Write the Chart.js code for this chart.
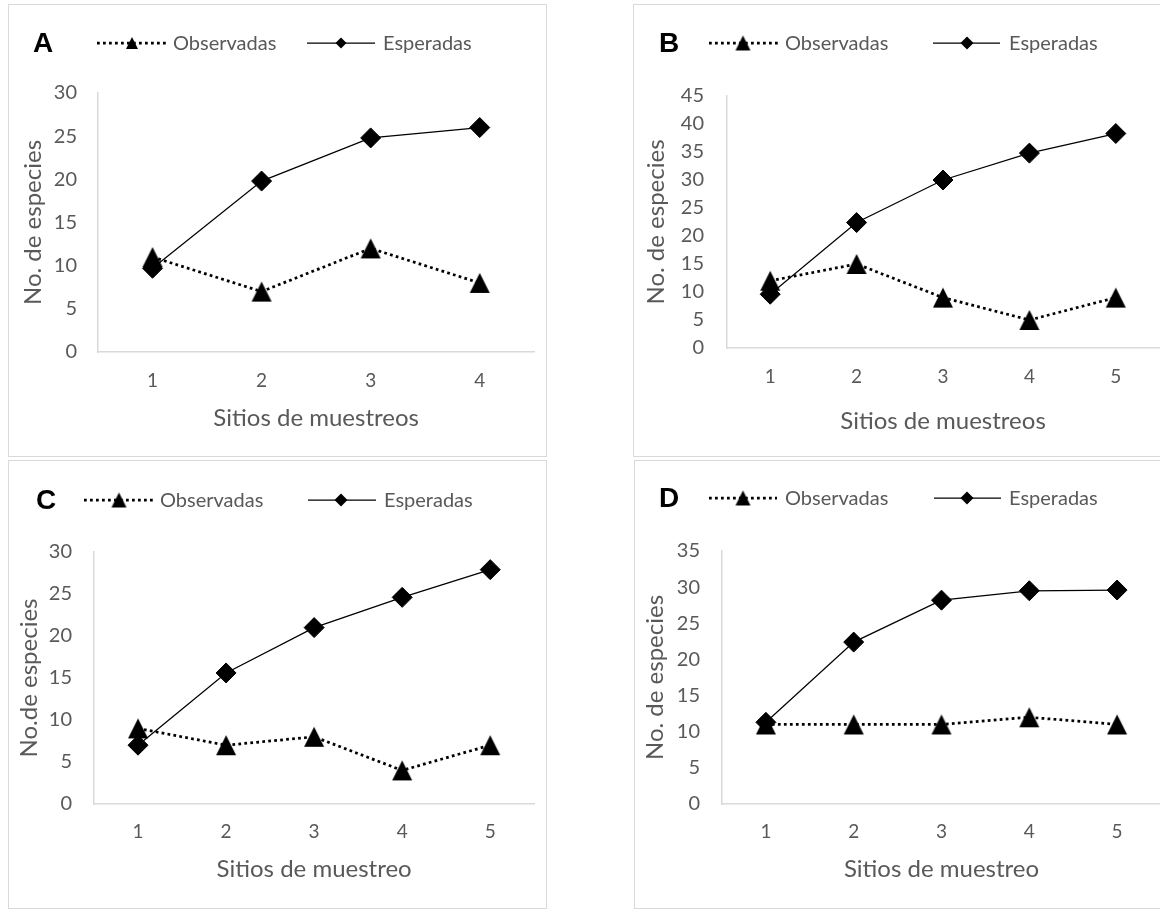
<!DOCTYPE html>
<html>
<head>
<meta charset="utf-8">
<script src="https://cdn.jsdelivr.net/npm/chart.js@4/dist/chart.umd.min.js"></script>
<style>
    html, body { margin: 0; padding: 0; background: #fff; }
    body { width: 1160px; height: 909px; overflow: hidden; position: relative; }
    .panel { position: absolute; box-sizing: border-box; border: 1px solid #d9d9d9; }
    .panel canvas { position: absolute; left: 0; top: 0; }
</style>
</head>
<body>
<script>
// data
var sitesA = ['1', '2', '3', '4'];
var sitesBCD = ['1', '2', '3', '4', '5'];

var obsA = [11, 7, 12, 8];
var espA = [9.7, 19.8, 24.8, 26];

var obsB = [12, 15, 9, 5, 9];
var espB = [9.6, 22.4, 30, 34.8, 38.3];

var obsC = [9, 7, 8, 4, 7];
var espC = [7, 15.6, 21, 24.6, 27.9];

var obsD = [11, 11, 11, 12, 11];
var espD = [11.3, 22.4, 28.2, 29.5, 29.6];

var yMaxes = [30, 45, 30, 35];
var yTitles = ['No. de especies', 'No. de especies', 'No.de especies', 'No. de especies'];
var xTitles = ['Sitios de muestreos', 'Sitios de muestreos', 'Sitios de muestreo', 'Sitios de muestreo'];
var letters = ['A', 'B', 'C', 'D'];
var seriesNames = ['Observadas', 'Esperadas'];

var GREY = '#595959';
var FONT = 'Lato, "Open Sans", sans-serif';

// panel boxes and plot areas (canvas coords)
var panels = [
    { left: 8, top: 4, w: 539, h: 453, area: { l: 89, r: 529, t: 88, b: 347 },
      yTitleX: 24, xTitleOff: 66, yPad: 21, xPad: 17,
      leg: { y: 38, letterX: 24, obs: [88, 159, 123], obsText: 164, esp: [298, 366, 332], espText: 374, tri: 12, diaR: 5.5 },
      labels: sitesA, obs: obsA, esp: espA },
    { left: 633, top: 4, w: 540, h: 453, area: { l: 93, r: 525, t: 91, b: 343 },
      yTitleX: 22, xTitleOff: 73, yPad: 23, xPad: 17,
      leg: { y: 38, letterX: 25, obs: [75, 144, 109], obsText: 151, esp: [299, 366, 333], espText: 375, tri: 15, diaR: 6.5 },
      labels: sitesBCD, obs: obsB, esp: espB },
    { left: 8, top: 460, w: 539, h: 449, area: { l: 85, r: 533, t: 91, b: 343 },
      yTitleX: 20, xTitleOff: 65, yPad: 22, xPad: 16,
      leg: { y: 39, letterX: 27, obs: [75, 144, 110], obsText: 151, esp: [299, 367, 332], espText: 375, tri: 15, diaR: 6.5 },
      labels: sitesBCD, obs: obsC, esp: espC },
    { left: 634, top: 460, w: 540, h: 449, area: { l: 87, r: 526, t: 90, b: 343 },
      yTitleX: 20, xTitleOff: 65, yPad: 22, xPad: 16,
      leg: { y: 37, letterX: 24, obs: [74, 142, 108], obsText: 150, esp: [299, 366, 332], espText: 374, tri: 15, diaR: 6.5 },
      labels: sitesBCD, obs: obsD, esp: espD }
];

// Excel-like triangle marker: box centred on the value
function makeTriangle(size) {
    var c = document.createElement('canvas');
    c.width = size + 2;
    c.height = size + 2;
    var g = c.getContext('2d');
    g.fillStyle = '#000';
    g.beginPath();
    g.moveTo(c.width / 2, 1);
    g.lineTo(c.width - 1, c.height - 1);
    g.lineTo(1, c.height - 1);
    g.closePath();
    g.fill();
    return c;
}

function drawDiamond(ctx, x, y, r) {
    ctx.beginPath();
    ctx.moveTo(x - r, y);
    ctx.lineTo(x, y - r);
    ctx.lineTo(x + r, y);
    ctx.lineTo(x, y + r);
    ctx.closePath();
    ctx.fill();
}

var triMarker = makeTriangle(20);

var panelLegend = {
    id: 'panelLegend',
    afterDraw: function (chart) {
        var o = chart.options.plugins.panelLegend;
        var ctx = chart.ctx;
        var y = o.y;
        ctx.save();
        ctx.fillStyle = '#000';
        ctx.strokeStyle = '#000';
        ctx.textBaseline = 'middle';
        ctx.textAlign = 'left';
        ctx.font = 'bold 28px "Liberation Sans", Arial, sans-serif';
        ctx.fillText(o.letter, o.letterX, y + 1);

        // observadas: dotted line + triangle
        ctx.lineWidth = 2.75;
        ctx.setLineDash([2.75, 3.25]);
        ctx.beginPath();
        ctx.moveTo(o.obs[0], y);
        ctx.lineTo(o.obs[1], y);
        ctx.stroke();
        ctx.setLineDash([]);
        var t = makeTriangle(o.tri);
        ctx.drawImage(t, o.obs[2] - t.width / 2, y - t.height / 2);

        // esperadas: solid line + diamond
        ctx.lineWidth = 1.25;
        ctx.beginPath();
        ctx.moveTo(o.esp[0], y);
        ctx.lineTo(o.esp[1], y);
        ctx.stroke();
        drawDiamond(ctx, o.esp[2], y, o.diaR);

        ctx.fillStyle = GREY;
        ctx.font = '20px ' + FONT;
        ctx.fillText(seriesNames[0], o.obsText, y + 1);
        ctx.fillText(seriesNames[1], o.espText, y + 1);
        ctx.restore();
    }
};

panels.forEach(function (p, i) {
    var div = document.createElement('div');
    div.className = 'panel';
    div.style.left = p.left + 'px';
    div.style.top = p.top + 'px';
    div.style.width = p.w + 'px';
    div.style.height = p.h + 'px';
    var canvas = document.createElement('canvas');
    canvas.width = p.w;
    canvas.height = p.h;
    div.appendChild(canvas);
    document.body.appendChild(div);

    var xH = p.xTitleOff + 14.4;
    var leg = Object.assign({ letter: letters[i] }, p.leg);

    new Chart(canvas, {
        type: 'line',
        data: {
            labels: p.labels,
            datasets: [
                {
                    label: seriesNames[1],
                    data: p.esp,
                    borderColor: '#000',
                    backgroundColor: '#000',
                    borderWidth: 1.25,
                    tension: 0,
                    pointStyle: 'rectRot',
                    pointRadius: 10,
                    pointBorderWidth: 1,
                    pointBackgroundColor: '#000',
                    pointBorderColor: '#000'
                },
                {
                    label: seriesNames[0],
                    data: p.obs,
                    borderColor: '#000',
                    backgroundColor: '#000',
                    borderWidth: 2.75,
                    borderDash: [2.75, 3.25],
                    tension: 0,
                    pointStyle: triMarker,
                    pointRadius: 11,
                    pointBackgroundColor: '#000',
                    pointBorderColor: '#000'
                }
            ]
        },
        options: {
            responsive: false,
            animation: false,
            devicePixelRatio: 1,
            layout: {
                padding: {
                    left: 0,
                    top: p.area.t,
                    right: p.w - p.area.r,
                    bottom: p.h - p.area.b - xH
                }
            },
            plugins: {
                legend: { display: false },
                tooltip: { enabled: false },
                panelLegend: leg
            },
            scales: {
                x: {
                    type: 'category',
                    offset: true,
                    grid: { display: true, color: 'rgba(0,0,0,0)', drawTicks: false },
                    border: { display: true, color: '#d9d9d9', width: 1.5 },
                    ticks: { color: GREY, font: { family: FONT, size: 19 }, padding: p.xPad, maxRotation: 0 },
                    title: {
                        display: true, text: xTitles[i], color: GREY,
                        font: { family: FONT, size: 24 }, padding: { top: 0, bottom: 0 }
                    },
                    afterFit: function (scale) { scale.height = xH; }
                },
                y: {
                    min: 0,
                    max: yMaxes[i],
                    grid: { display: true, color: 'rgba(0,0,0,0)', drawTicks: false },
                    border: { display: true, color: '#d9d9d9', width: 1.5 },
                    ticks: { stepSize: 5, color: GREY, font: { family: FONT, size: 20 }, padding: p.yPad },
                    title: {
                        display: true, text: yTitles[i], color: GREY,
                        font: { family: FONT, size: 24 }, padding: { top: p.yTitleX - 14.4, bottom: 0 }
                    },
                    afterFit: function (scale) { scale.width = p.area.l; }
                }
            }
        },
        plugins: [panelLegend]
    });
});
</script>
</body>
</html>
